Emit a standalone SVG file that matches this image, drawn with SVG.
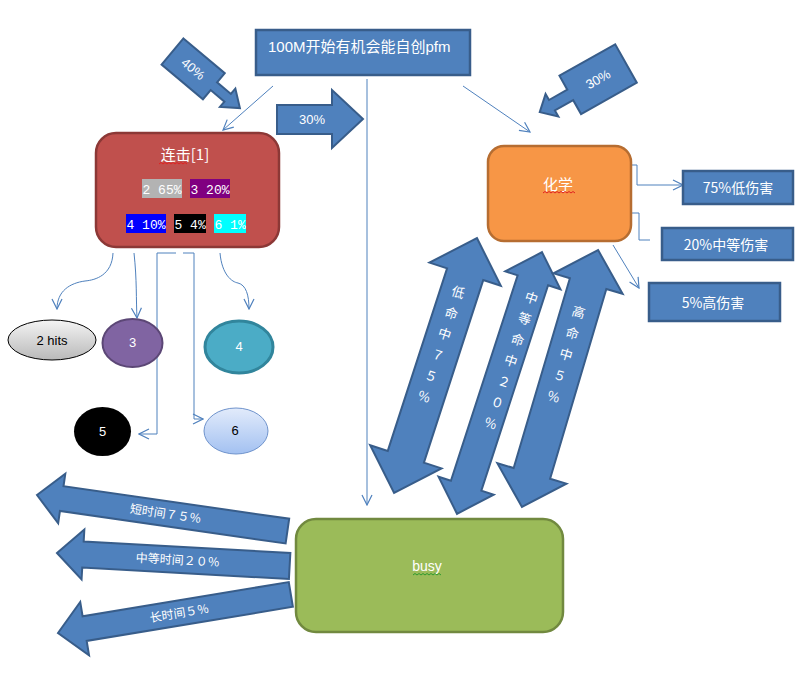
<svg xmlns="http://www.w3.org/2000/svg" width="798" height="681" viewBox="0 0 798 681">
<style>
.t{font-family:"Liberation Sans","Noto Sans CJK SC",sans-serif;fill:#ffffff}
.cj{font-family:"Noto Sans CJK SC",sans-serif;fill:#ffffff}
.mono{font-family:"Liberation Mono","Noto Sans CJK SC",monospace;fill:#ffffff;font-size:13px}
.barrow{fill:#4f81bd;stroke:#385d8a;stroke-width:2;stroke-linejoin:miter}
.bbox{fill:#4f81bd;stroke:#385d8a;stroke-width:2.5}
.ln{fill:none;stroke:#4f81bd;stroke-width:1}
.sq{fill:none;stroke-width:1}
</style>
<defs>
<marker id="arr" viewBox="0 0 12 12" refX="11" refY="6" markerWidth="12" markerHeight="12" markerUnits="userSpaceOnUse" orient="auto">
<path d="M1,1 L11,6 L1,11" fill="none" stroke="#4f81bd" stroke-width="1.2"/>
</marker>
<linearGradient id="g2" x1="0" y1="0" x2="0" y2="1">
<stop offset="0" stop-color="#f4f4f4"/><stop offset="1" stop-color="#b9b9b9"/>
</linearGradient>
<linearGradient id="g6" x1="0" y1="0" x2="0" y2="1">
<stop offset="0" stop-color="#e2ebfb"/><stop offset="1" stop-color="#a3c1f1"/>
</linearGradient>
</defs>
<rect width="798" height="681" fill="#ffffff"/>

<g id="connectors">
<path class="ln" d="M273,86 L223,130" marker-end="url(#arr)"/>
<path class="ln" d="M367,79 L367,505" marker-end="url(#arr)"/>
<path class="ln" d="M463,86 L530,132" marker-end="url(#arr)"/>
<path class="ln" d="M590,165 L637,165 L637,185 L683,185" marker-end="url(#arr)"/>
<path class="ln" d="M631,213 L639,213 L639,240 L650,240" stroke="#7ea2d2"/>
<path class="ln" d="M613,245 L639,288" marker-end="url(#arr)"/>
<path class="ln" d="M113,253 C112,275 96,280 85,281 C70,283 57,291 57,309" marker-end="url(#arr)"/>
<path class="ln" d="M134,253 C137,280 136,300 137,318" marker-end="url(#arr)"/>
<path class="ln" d="M220,253 C222,275 232,282 238,283 C246,285 249,295 249,309" marker-end="url(#arr)"/>
<path class="ln" d="M176,253 L157,253 L157,434 L139,434" marker-end="url(#arr)"/>
<path class="ln" d="M183,253 L194,253 L194,419 L203,419" marker-end="url(#arr)"/>
</g>

<g id="top">
<rect class="bbox" x="256" y="30" width="214" height="45"/>
<text class="t" x="268" y="52" font-size="15">100M开始有机会能自创pfm</text>
</g>

<g id="arrow40">
<g transform="translate(172.5,51.5) rotate(40)">
<polygon class="barrow" points="0,-17 54,-17 54,-5 72,-5 72,-12 88,0 72,12 72,5 54,5 54,17 0,17"/>
<text class="t" x="27" y="4.5" font-size="13" text-anchor="middle">40%</text>
</g>
</g>

<g id="arrow30r">
<polygon class="barrow" points="277,105 332,105 332,90 363,119 332,148 332,134 277,134"/>
<text class="t" x="312" y="124" font-size="13" text-anchor="middle">30%</text>
</g>

<g id="arrow30c">
<g transform="translate(626,63.5) rotate(150.6)">
<polygon class="barrow" points="0,-22 64,-22 64,-6 85,-6 85,-13 99,0 85,13 85,6 64,6 64,22 0,22"/>
<text class="t" transform="translate(32,0) rotate(180)" x="0" y="4.5" font-size="13" text-anchor="middle">30%</text>
</g>
</g>

<g id="combo">
<rect x="96" y="133" width="183" height="114" rx="20" fill="#c0504d" stroke="#8c3836" stroke-width="2.5"/>
<text class="cj" x="185" y="160" font-size="15" text-anchor="middle">连击[1]</text>
<path class="sq" stroke="#e02020" d="M159,164 l2,-1.5 l2,1.5 l2,-1.5 l2,1.5 l2,-1.5 l2,1.5 l2,-1.5 l2,1.5 l2,-1.5 l2,1.5 l2,-1.5 l2,1.5 l2,-1.5 l2,1.5"/>
<rect x="142" y="179" width="40" height="19" fill="#b3b3b3"/>
<text class="mono" x="142.5" y="194">2 65%</text>
<rect x="190" y="179" width="40" height="19" fill="#800080"/>
<text class="mono" x="190.5" y="194">3 20%</text>
<rect x="126" y="214" width="40" height="19" fill="#0000ff"/>
<text class="mono" x="126.5" y="229">4 10%</text>
<rect x="174" y="214" width="32" height="19" fill="#000000"/>
<text class="mono" x="174.5" y="229">5 4%</text>
<rect x="214" y="214" width="32" height="19" fill="#00ffff"/>
<text class="mono" x="214.5" y="229">6 1%</text>
</g>

<g id="chem">
<rect x="488" y="146" width="143" height="95" rx="16" fill="#f79646" stroke="#b66d31" stroke-width="2.5"/>
<text class="cj" x="558" y="190" font-size="15" text-anchor="middle">化学</text>
<path class="sq" stroke="#e02020" d="M543,193 l2,-1.5 l2,1.5 l2,-1.5 l2,1.5 l2,-1.5 l2,1.5 l2,-1.5 l2,1.5 l2,-1.5 l2,1.5 l2,-1.5 l2,1.5 l2,-1.5 l2,1.5 l2,-1.5 l2,1.5"/>
</g>

<g id="low">
<rect class="bbox" x="683" y="171" width="110" height="33"/>
<text class="cj" x="738" y="193" font-size="14" text-anchor="middle">75%低伤害</text>
</g>
<g id="mid">
<rect class="bbox" x="662" y="228" width="131" height="32"/>
<text class="cj" x="726" y="250" font-size="14" text-anchor="middle">20%中等伤害</text>
</g>
<g id="high">
<rect class="bbox" x="649" y="283" width="131" height="38"/>
<text class="cj" x="713" y="308" font-size="14" text-anchor="middle">5%高伤害</text>
</g>

<g id="n2">
<ellipse cx="52" cy="340" rx="44" ry="20" fill="url(#g2)" stroke="#000000" stroke-width="1"/>
<text x="52" y="345" font-size="13" text-anchor="middle" font-family="Liberation Sans, sans-serif" fill="#000000">2 hits</text>
</g>
<g id="n3">
<ellipse cx="132.5" cy="343" rx="30" ry="24" fill="#8064a2" stroke="#5c4776" stroke-width="2"/>
<text class="t" x="132.5" y="347" font-size="13" text-anchor="middle">3</text>
</g>
<g id="n4">
<ellipse cx="239" cy="347" rx="34" ry="26" fill="#4bacc6" stroke="#31859c" stroke-width="3"/>
<text class="t" x="239" y="351" font-size="13" text-anchor="middle">4</text>
</g>
<g id="n5">
<ellipse cx="102.5" cy="431.5" rx="28.5" ry="24.5" fill="#000000"/>
<text class="t" x="102.5" y="436" font-size="13" text-anchor="middle">5</text>
</g>
<g id="n6">
<ellipse cx="236" cy="431" rx="32" ry="23" fill="url(#g6)" stroke="#6f93cc" stroke-width="1"/>
<text x="235" y="435" font-size="13" text-anchor="middle" font-family="Liberation Sans, sans-serif" fill="#000000">6</text>
</g>

<g id="dbl1">
<g transform="translate(435.5,365.5) rotate(18)">
<polygon class="barrow" points="0,-134 37.5,-96 19,-96 19,96 37.5,96 0,134 -37.5,96 -19,96 -19,-96 -37.5,-96"/>
<text class="cj" font-size="13" text-anchor="middle"><tspan x="-1" y="-72">低</tspan><tspan x="-1" y="-50">命</tspan><tspan x="-1" y="-28">中</tspan><tspan x="-1" y="-6">７</tspan><tspan x="-1" y="16">５</tspan><tspan x="-1" y="38">％</tspan></text>
</g>
</g>
<g id="dbl2">
<g transform="translate(499.5,383) rotate(18)">
<polygon class="barrow" points="0,-137.5 29,-108 16,-108 16,108 29,108 0,137.5 -29,108 -16,108 -16,-108 -29,-108"/>
<text class="cj" font-size="13" text-anchor="middle"><tspan x="4" y="-86">中</tspan><tspan x="4" y="-64">等</tspan><tspan x="4" y="-42">命</tspan><tspan x="4" y="-20">中</tspan><tspan x="4" y="2">２</tspan><tspan x="4" y="24">０</tspan><tspan x="4" y="46">％</tspan></text>
</g>
</g>
<g id="dbl3">
<g transform="translate(560,378.5) rotate(16.5)">
<polygon class="barrow" points="0,-134 36,-99 19,-99 19,99 36,99 0,134 -36,99 -19,99 -19,-99 -36,-99"/>
<text class="cj" font-size="13" text-anchor="middle"><tspan x="-1" y="-64">高</tspan><tspan x="-1" y="-42">命</tspan><tspan x="-1" y="-20">中</tspan><tspan x="-1" y="2">５</tspan><tspan x="-1" y="24">％</tspan></text>
</g>
</g>

<g id="short">
<g transform="translate(37,495) rotate(8.2)">
<polygon class="barrow" points="0,0 25,-25 25,-12.5 253,-12.5 253,12.5 25,12.5 25,25"/>
<text class="cj" x="130" y="4.5" font-size="12" text-anchor="middle">短时间７５％</text>
</g>
</g>
<g id="medium">
<g transform="translate(57,553) rotate(3.2)">
<polygon class="barrow" points="0,0 26,-25 26,-13 233,-13 233,13 26,13 26,25"/>
<text class="cj" x="121" y="4.5" font-size="12" text-anchor="middle">中等时间２０％</text>
</g>
</g>
<g id="long">
<g transform="translate(58,633) rotate(-9.4)">
<polygon class="barrow" points="0,0 27,-27 27,-12.5 236,-12.5 236,12.5 27,12.5 27,27"/>
<text class="cj" x="123" y="4.5" font-size="12" text-anchor="middle">长时间５％</text>
</g>
</g>

<g id="busy">
<rect x="296" y="519" width="267" height="113" rx="20" fill="#9bbb59" stroke="#71893f" stroke-width="2.5"/>
<text class="t" x="427" y="571" font-size="14" text-anchor="middle">busy</text>
<path class="sq" stroke="#2e9a2e" d="M413,575 l2,-1.5 l2,1.5 l2,-1.5 l2,1.5 l2,-1.5 l2,1.5 l2,-1.5 l2,1.5 l2,-1.5 l2,1.5 l2,-1.5 l2,1.5 l2,-1.5 l2,1.5"/>
</g>
</svg>
